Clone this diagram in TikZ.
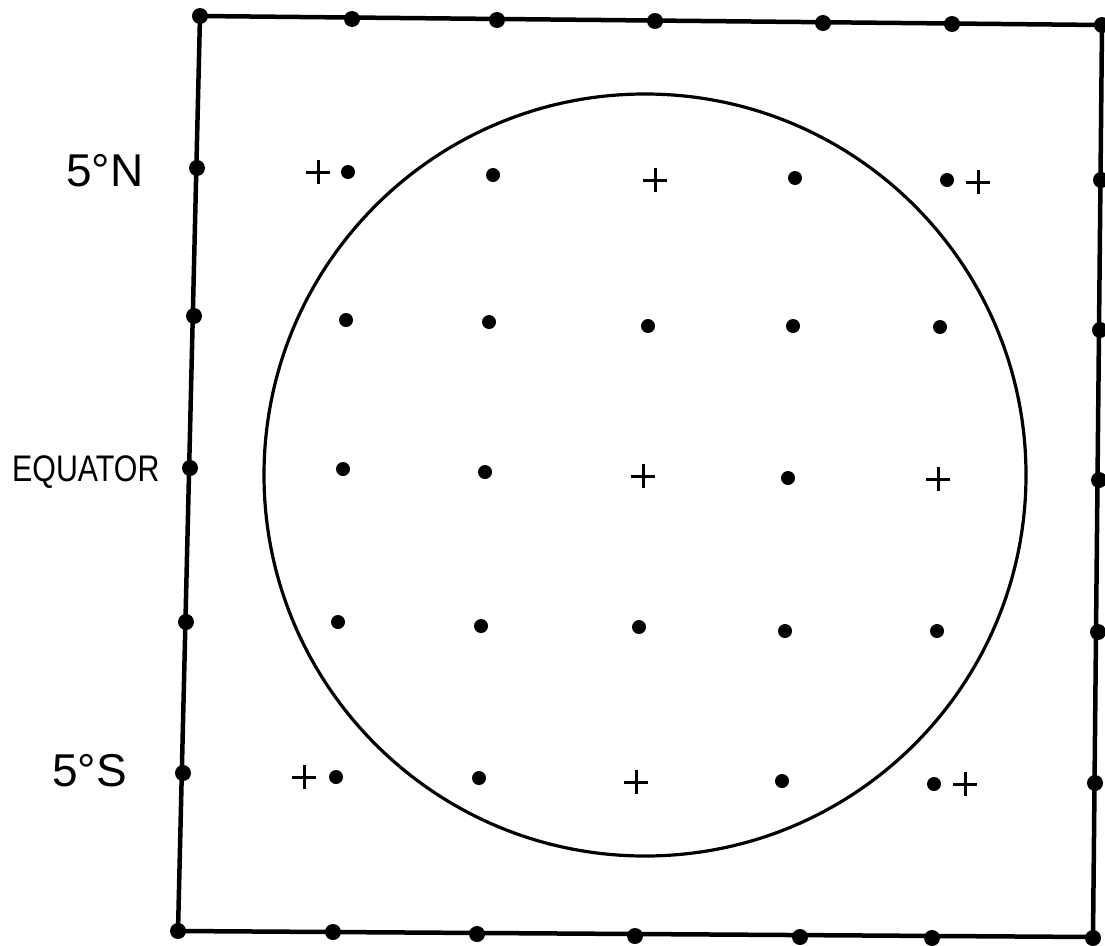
\documentclass[tikz,border=0pt]{standalone}
\usepackage{fontspec}
\usepackage{graphicx}
\setmainfont{Liberation Sans}
\begin{document}
\begin{tikzpicture}[x=1pt,y=-1pt,
  edgedot/.style={circle,fill=black,inner sep=0pt,minimum size=16pt},
  griddot/.style={circle,fill=black,inner sep=0pt,minimum size=14pt},
  plusmark/.pic={\draw[line width=3pt] (-12,0)--(12,0) (0,-12)--(0,12);},
  biglbl/.style={font=\fontsize{46}{46}\selectfont,inner sep=0pt,anchor=base west},
  eqlbl/.style={font=\fontsize{37}{37}\selectfont,inner sep=0pt,anchor=base west}]
\useasboundingbox (0,0) rectangle (1105,945);
% frame
\coordinate (TL) at (200,16);
\coordinate (TR) at (1102,25);
\coordinate (BR) at (1093,937);
\coordinate (BL) at (178,931);
\draw[line width=4.5pt,line join=round] (TL) -- (TR) -- (BR) -- (BL) -- cycle;
% edge dots
\foreach \x/\y [count=\i] in {200/16,352/19,497/20,655/21,823/23,952/24,1102/25}
  \node[edgedot] (t\i) at (\x,\y) {};
\foreach \x/\y [count=\i] in {1101/180,1100/330,1099/480,1098/632,1095/783}
  \node[edgedot] (r\i) at (\x,\y) {};
\foreach \x/\y [count=\i] in {178/931,333/932,477/934,635/936,800/937,932/938,1093/938}
  \node[edgedot] (b\i) at (\x,\y) {};
\foreach \x/\y [count=\i] in {197/168,194/316,190/468,186/622,183/773}
  \node[edgedot] (l\i) at (\x,\y) {};
% circle
\node[circle,draw,line width=3.2pt,minimum size=762pt,inner sep=0pt] (disk) at (645,475) {};
% grid dots
\foreach \x/\y [count=\i] in {348/172,493/175,795/178,947/180,
  346/320,489/322,648/326,793/326,940/327,
  343/469,485/472,788/478,
  338/622,481/626,639/627,785/631,937/631,
  336/777,479/778,782/781,934/784}
  \node[griddot] (g\i) at (\x,\y) {};
% plus marks
\foreach \x/\y in {318/172,655/180,978/182,643/476,938/479,304/777,636/782,965/784}
  \pic at (\x,\y) {plusmark};
% labels
\node[biglbl] (n5) at (66,186) {5°N};
\node[eqlbl] (eq) at (12,481) {\scalebox{0.82}[1]{EQUATOR}};
\node[biglbl] (s5) at (52,786) {5°S};
\end{tikzpicture}
\end{document}
